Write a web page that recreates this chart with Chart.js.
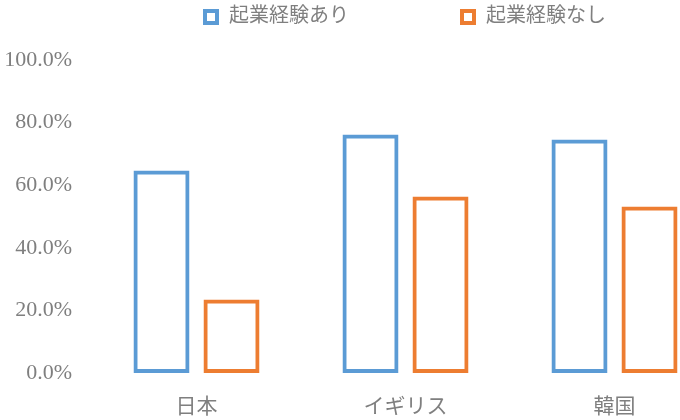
<!DOCTYPE html>
<html lang="ja">
<head>
<meta charset="utf-8">
<title>起業経験の有無</title>
<script src="https://cdn.jsdelivr.net/npm/chart.js@4.4.1/dist/chart.umd.min.js"></script>
<style>
  html, body { margin: 0; padding: 0; background: #fff; overflow: hidden; }
  #wrap { width: 719px; height: 420px; }
</style>
</head>
<body>
<div id="wrap"><canvas id="chart" width="719" height="420"></canvas></div>
<script>
const categories = ["日本", "イギリス", "韓国"]
const seriesNames = ["起業経験あり", "起業経験なし"]
const withExperience = [64.7, 76.2, 74.6]
const withoutExperience = [23.5, 56.4, 53.2]
const yTickValues = [0, 20, 40, 60, 80, 100]
const yTickLabels = ["0.0%", "20.0%", "40.0%", "60.0%", "80.0%", "100.0%"]

const blue = "#5B9BD5"
const orange = "#ED7D31"
const grey = "#7f7f7f"
const fontFamily = '"Liberation Serif", "Noto Sans CJK JP", serif'

// legend marker: hollow square sitting at the right end of a wide slot
const iconSlot = 120
function legendIcon(color) {
  const c = document.createElement("canvas")
  c.width = iconSlot
  c.height = 16
  const g = c.getContext("2d")
  g.strokeStyle = color
  g.lineWidth = 4
  g.strokeRect(iconSlot - 14, 2, 12, 12)
  return c
}
const icons = [legendIcon(blue), legendIcon(orange)]

const ctx = document.getElementById("chart").getContext("2d")

new Chart(ctx, {
  type: "bar",
  data: {
    labels: categories,
    datasets: [
      {
        label: seriesNames[0],
        data: withExperience,
        backgroundColor: "rgba(255,255,255,0)",
        borderColor: blue,
        borderWidth: 4,
        borderSkipped: false,
      },
      {
        label: seriesNames[1],
        data: withoutExperience,
        backgroundColor: "rgba(255,255,255,0)",
        borderColor: orange,
        borderWidth: 4,
        borderSkipped: false,
      },
    ],
  },
  options: {
    responsive: false,
    animation: false,
    barPercentage: 0.8,
    categoryPercentage: 0.67,
    layout: { padding: 0 },
    plugins: {
      tooltip: { enabled: false },
      legend: {
        position: "top",
        align: "start",
        fullSize: false,
        labels: {
          usePointStyle: true,
          pointStyleWidth: iconSlot,
          padding: 7,
          color: grey,
          font: { family: fontFamily, size: 20 },
          generateLabels(chart) {
            const items = Chart.defaults.plugins.legend.labels.generateLabels(chart)
            items.forEach((item, i) => { item.pointStyle = icons[i] })
            return items
          },
        },
      },
    },
    scales: {
      x: {
        grid: { display: false, drawTicks: false },
        border: { display: false },
        ticks: {
          color: grey,
          padding: 22,
          font: { family: fontFamily, size: 21 },
        },
        afterFit(scale) { scale.height = 47 },
      },
      // empty band between the legend and the plot
      xTop: {
        type: "category",
        position: "top",
        grid: { display: false, drawTicks: false },
        border: { display: false },
        ticks: { display: false },
        afterFit(scale) { scale.height = 23 },
      },
      y: {
        min: 0,
        max: 100,
        grid: { display: false, drawTicks: false },
        border: { display: false },
        afterBuildTicks(scale) {
          scale.ticks = yTickValues.map((v) => ({ value: v }))
        },
        ticks: {
          color: grey,
          padding: 20,
          font: { family: fontFamily, size: 22 },
          callback: (value) => yTickLabels[yTickValues.indexOf(value)],
        },
        afterFit(scale) { scale.width = 92 },
      },
    },
  },
})
</script>
</body>
</html>
